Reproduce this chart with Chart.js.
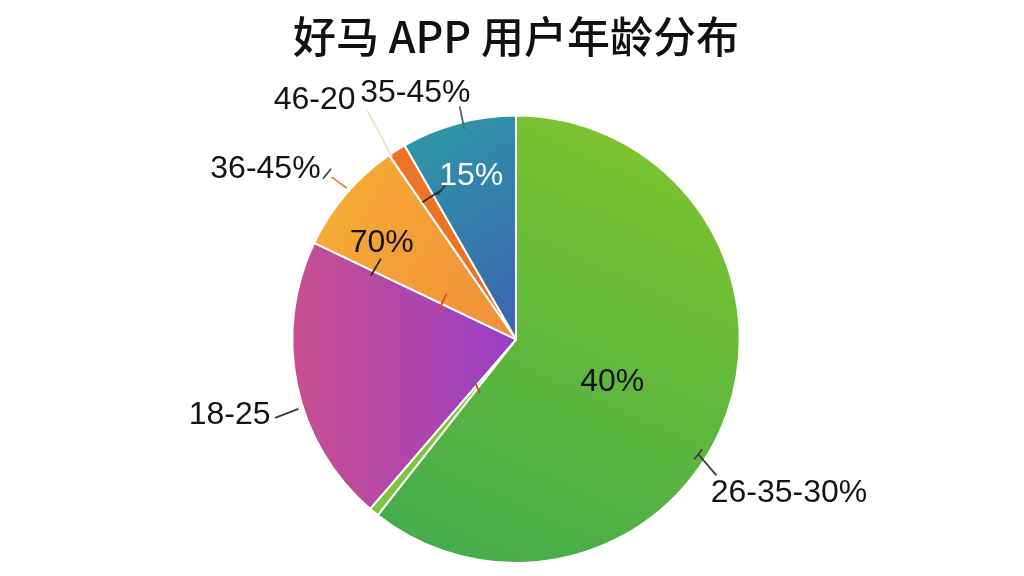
<!DOCTYPE html>
<html>
<head>
<meta charset="utf-8">
<script src="https://cdn.jsdelivr.net/npm/chart.js@4/dist/chart.umd.min.js"></script>
<style>
  html, body { margin: 0; padding: 0; background: #fff; }
  #wrap { width: 1024px; height: 576px; }
</style>
</head>
<body>
<div id="wrap"><canvas id="pie-chart"></canvas></div>
<script>
const chartTitle = '好马 APP 用户年龄分布';

// slices, clockwise from 12 o'clock
const categories = ['26-35', '其他', '18-25', '36-45', '46-20', '35-45'];
const shares = [60.6, 0.7, 20.8, 8.3, 1.3, 8.3];
const outerLabels = ['26-35-30%', '', '18-25', '36-45%', '46-20', '35-45%'];
const innerLabels = ['40%', '', '', '70%', '', '15%'];

// gradient stops for each slice [start, end]
const sliceColors = [
    ['#7fc42d', '#43ac4b'],
    ['#7cc63a', '#7cc63a'],
    ['#c9508e', '#9a3ec6'],
    ['#f6aa33', '#f08f3c'],
    ['#ed7427', '#ea6c26'],
    ['#2c9ba7', '#3a6aaf'],
];

// label placement in units of pie radius, relative to the centre
const outerPlace = [[1.22, 0.69], null, [-1.28, 0.34], [-1.12, -0.76], [-0.90, -1.07], [-0.45, -1.10]];
const innerPlace = [[0.43, 0.19], null, null, [-0.60, -0.43], null, [-0.20, -0.73]];

// leader lines / little tick marks [x1, y1, x2, y2, colour]
const leaders = [
    [0.815, 0.514, 0.896, 0.608, '#3a3a3a'],
    [-1.077, 0.351, -0.973, 0.311, '#3a3a3a'],
    [-0.824, -0.725, -0.757, -0.676, '#e8823a'],
    [-0.252, -1.041, -0.230, -0.937, '#4d6a72'],
    [-0.667, -1.027, -0.554, -0.815, '#efe2c6'],
    [-0.419, -0.613, -0.333, -0.667, '#2a2a2a'],
    [-0.604, -0.360, -0.649, -0.284, '#2a2a2a'],
    [-0.311, -0.203, -0.351, -0.117, '#d8442c'],
    [-0.180, 0.200, -0.160, 0.240, '#d8442c'],
];
const ticks = [
    [0.815, 0.514],
    [-0.845, -0.740],
    [-0.333, -0.667],
];

const pieGeom = (chart) => {
    const arc = chart.getDatasetMeta(0).data[0];
    return { cx: arc.x, cy: arc.y, r: arc.outerRadius };
};

const sliceFill = (ctx) => {
    const chart = ctx.chart;
    const i = ctx.dataIndex;
    const stops = sliceColors[i];
    if (!chart.chartArea) {
        return stops[0];
    }
    const a = chart.chartArea;
    const cx = (a.left + a.right) / 2;
    const cy = (a.top + a.bottom) / 2;
    const r = Math.min(a.width, a.height) / 2;
    const dirs = [
        [0.6, -1, -0.3, 1],
        [0, 0, 1, 1],
        [-1, 0, 0, 0],
        [-0.9, -0.5, 0, 0],
        [0, 0, 1, 1],
        [-0.5, -1, 0, -0.2],
    ];
    const d = dirs[i];
    const g = chart.ctx.createLinearGradient(cx + d[0] * r, cy + d[1] * r, cx + d[2] * r, cy + d[3] * r);
    g.addColorStop(0, stops[0]);
    g.addColorStop(1, stops[1]);
    return g;
};

const labelPlugin = {
    id: 'sliceLabels',
    afterDatasetsDraw(chart) {
        const { ctx } = chart;
        const { cx, cy, r } = pieGeom(chart);
        ctx.save();

        leaders.forEach(([x1, y1, x2, y2, c]) => {
            ctx.beginPath();
            ctx.moveTo(cx + x1 * r, cy + y1 * r);
            ctx.lineTo(cx + x2 * r, cy + y2 * r);
            ctx.strokeStyle = c;
            ctx.lineWidth = 1.8;
            ctx.stroke();
        });
        ticks.forEach(([x, y]) => {
            ctx.beginPath();
            ctx.moveTo(cx + x * r - 4, cy + y * r + 5);
            ctx.lineTo(cx + x * r + 4, cy + y * r - 5);
            ctx.strokeStyle = '#3a3a3a';
            ctx.lineWidth = 1.6;
            ctx.stroke();
        });

        ctx.font = "32px 'Liberation Sans', Arial, sans-serif";
        ctx.textAlign = 'center';
        ctx.textBaseline = 'middle';
        outerLabels.forEach((t, i) => {
            if (!t || !outerPlace[i]) return;
            ctx.fillStyle = '#141414';
            ctx.fillText(t, cx + outerPlace[i][0] * r, cy + outerPlace[i][1] * r);
        });
        innerLabels.forEach((t, i) => {
            if (!t || !innerPlace[i]) return;
            ctx.fillStyle = i === 5 ? '#ffffff' : '#141414';
            ctx.fillText(t, cx + innerPlace[i][0] * r, cy + innerPlace[i][1] * r);
        });
        ctx.restore();
    }
};

const config = {
    type: 'pie',
    data: {
        labels: categories,
        datasets: [{
            data: shares,
            backgroundColor: sliceFill,
            borderColor: '#ffffff',
            borderWidth: 2,
        }]
    },
    options: {
        responsive: false,
        animation: false,
        layout: { padding: { top: 11, bottom: 12, left: 200, right: 192 } },
        plugins: {
            legend: { display: false },
            tooltip: { enabled: false },
            title: {
                display: true,
                text: chartTitle,
                color: '#111111',
                font: { size: 43, weight: '500', family: "'Noto Sans CJK SC', 'Noto Sans', sans-serif" },
                padding: { top: 0, bottom: 52 },
            },
        },
    },
    plugins: [labelPlugin],
};

const canvas = document.getElementById('pie-chart');
canvas.width = 1024;
canvas.height = 576;
new Chart(canvas, config);
</script>
</body>
</html>
